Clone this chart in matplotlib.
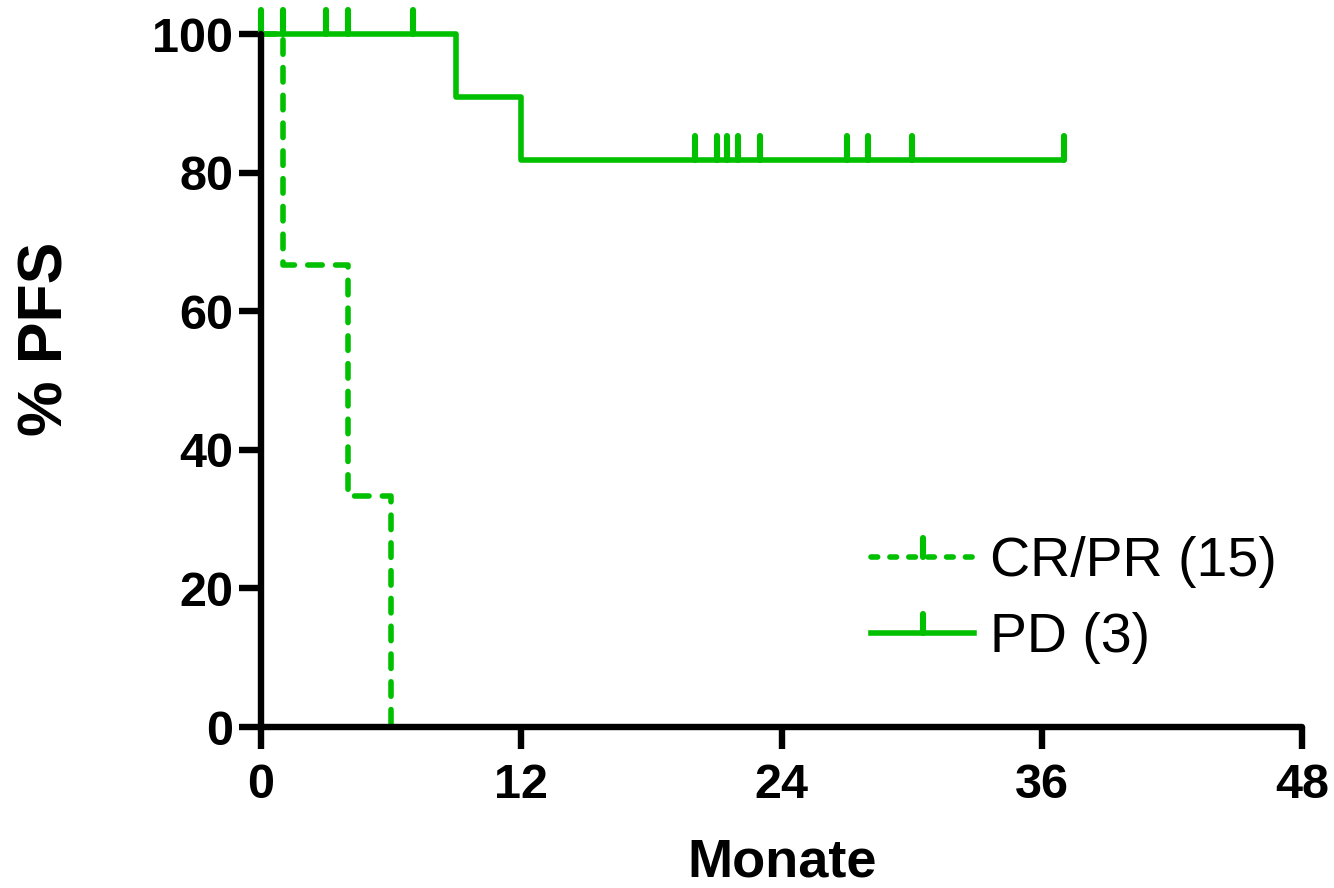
import numpy as np
import matplotlib
matplotlib.use("Agg")
import matplotlib.pyplot as plt
from matplotlib.lines import Line2D
from matplotlib.markers import MarkerStyle, TICKUP

plt.rcParams['font.family'] = ['Liberation Sans', 'DejaVu Sans']

# Kaplan-Meier steps (months, % PFS)
crpr_label = "CR/PR (15)"
crpr_times = [0, 1, 4, 6]
crpr_surv = [100, 66.7, 33.3, 0]

pd_label = "PD (3)"
pd_times = [0, 9, 12, 37]
pd_surv = [100, 90.9, 81.8, 81.8]
pd_censored = [0, 1, 3, 4, 7, 20, 21, 21.5, 22, 23, 27, 28, 30, 37]

x_ticks = [0, 12, 24, 36, 48]
y_ticks = [0, 20, 40, 60, 80, 100]

green = '#00c000'
lw = 4.0
tick_marker = MarkerStyle(TICKUP, capstyle='round')

fig = plt.figure(figsize=(13.34, 8.88), dpi=100)
ax = fig.add_axes([0.1957, 0.1813, 0.7805, 0.7804])

# dashed curve
ax.step(crpr_times, crpr_surv, where='post', color=green, lw=lw,
        linestyle=(0, (2.6, 2.4)), dash_capstyle='round',
        solid_joinstyle='miter', clip_on=False)

# solid curve + censor ticks
ax.step(pd_times, pd_surv, where='post', color=green, lw=lw,
        solid_capstyle='butt', solid_joinstyle='round', clip_on=False)
idx = np.searchsorted(pd_times, pd_censored, side='right') - 1
cens_y = np.array(pd_surv)[idx]
ax.plot(pd_censored, cens_y, linestyle='none', marker=tick_marker,
        markersize=17, markeredgewidth=4.4, color=green, clip_on=False)

ax.set_xlim(0, 48)
ax.set_ylim(0, 100)
ax.set_xticks(x_ticks)
ax.set_yticks(y_ticks)
for s in ['top', 'right']:
    ax.spines[s].set_visible(False)
for s in ['left', 'bottom']:
    ax.spines[s].set_linewidth(4.6)
    ax.spines[s].set_capstyle('round')
ax.tick_params(axis='both', length=16, width=4.6, labelsize=35, direction='out')
ax.tick_params(axis='x', pad=10)
ax.tick_params(axis='y', pad=4)
for lab in ax.get_xticklabels() + ax.get_yticklabels():
    lab.set_fontweight('bold')

ax.set_xlabel('Monate', fontsize=39, fontweight='bold')
ax.set_ylabel('% PFS', fontsize=45, fontweight='bold')
ax.xaxis.set_label_coords(0.5, -0.159)
ax.yaxis.set_label_coords(-0.178, 0.56)

handles = [
    Line2D([], [], color=green, lw=lw, linestyle=(0, (1.2, 2.2)),
           dash_capstyle='round', marker=tick_marker, markersize=14,
           markeredgewidth=4.4),
    Line2D([], [], color=green, lw=lw, marker=tick_marker, markersize=14,
           markeredgewidth=4.4),
]
ax.legend(handles, [crpr_label, pd_label], loc='center left',
          bbox_to_anchor=(0.586, 0.183), frameon=False, fontsize=40,
          handlelength=1.85, handletextpad=0.28, labelspacing=0.43,
          borderpad=0, borderaxespad=0, numpoints=1)

fig.savefig('out.png', dpi=100)
